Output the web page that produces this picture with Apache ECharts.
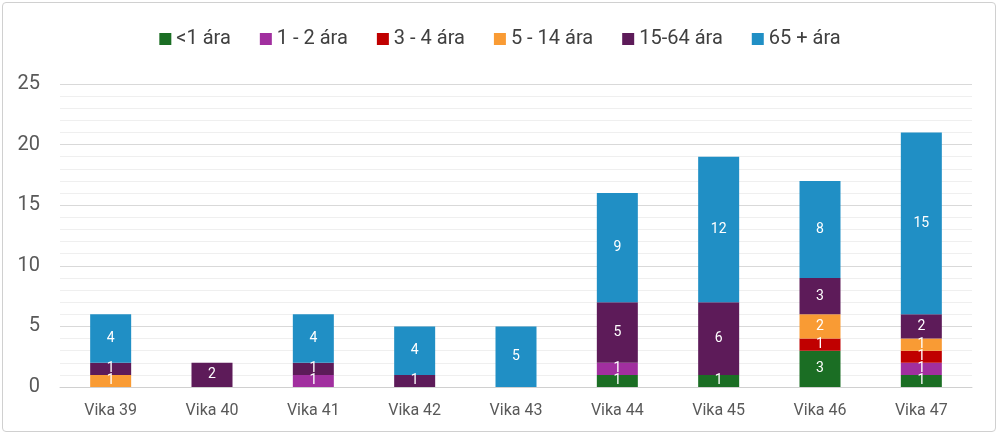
<!DOCTYPE html>
<html><head><meta charset="utf-8">
<script src="https://cdn.jsdelivr.net/npm/echarts@6/dist/echarts.min.js"></script>
<style>
html,body{margin:0;padding:0;background:#fff;}
#wrap{position:absolute;left:2px;top:2px;width:994px;height:430px;border:1px solid #d0d0d0;border-radius:4px;box-sizing:border-box;}
#c{position:absolute;left:0;top:0;width:1000px;height:436px;}
</style></head>
<body>
<div id="wrap"></div>
<div id="c"></div>
<script>
const categories = ['Vika 39','Vika 40','Vika 41','Vika 42','Vika 43','Vika 44','Vika 45','Vika 46','Vika 47'];
const seriesNames = ['<1 ára','1 - 2 ára','3 - 4 ára','5 - 14 ára','15-64 ára','65 + ára'];
const under1   = [0,0,0,0,0,1,1,3,1];
const age1to2  = [0,0,1,0,0,1,0,0,1];
const age3to4  = [0,0,0,0,0,0,0,1,1];
const age5to14 = [1,0,0,0,0,0,0,2,1];
const age15to64= [1,2,1,1,0,5,6,3,2];
const age65plus= [4,0,4,4,5,9,12,8,15];
const colors = ['#1b6e24','#a12f9f','#c00000','#f99b34','#5d1b59','#208fc5'];
const allData = [under1, age1to2, age3to4, age5to14, age15to64, age65plus];

const chart = echarts.init(document.getElementById('c'), null, {renderer:'canvas'});
chart.setOption({
  animation:false,
  color: colors,
  legend:{
    top:24, left:'center', itemWidth:12, itemHeight:12, itemGap:29,
    icon:'rect',
    textStyle:{fontSize:20, color:'#404040', fontFamily:'Roboto'},
    data: seriesNames
  },
  grid:{left:60, right:28, top:84, bottom:49},
  xAxis:{
    type:'category', data:categories,
    axisLine:{lineStyle:{color:'#d0d0d0'}},
    axisTick:{show:false},
    axisLabel:{fontSize:16, color:'#595959', margin:16, fontFamily:'Roboto'}
  },
  yAxis:{
    type:'value', min:0, max:25, interval:5,
    axisLine:{show:false}, axisTick:{show:false},
    axisLabel:{fontSize:20, color:'#595959', margin:20, fontFamily:'Roboto'},
    splitLine:{lineStyle:{color:'#d9d9d9', width:1}},
    minorTick:{show:false, splitNumber:5},
    minorSplitLine:{show:true, lineStyle:{color:'#efefef', width:1}}
  },
  series: seriesNames.map((n,i)=>({
    name:n, type:'bar', stack:'total', barWidth:41,
    data: allData[i].map(v=> v===0 ? null : v),
    itemStyle:{color:colors[i]},
    label:{show:true, position:'inside', color:'#fff', fontSize:14, fontFamily:'Roboto',
      formatter:p=> p.value ? p.value : ''}
  }))
});
</script>
</body></html>
